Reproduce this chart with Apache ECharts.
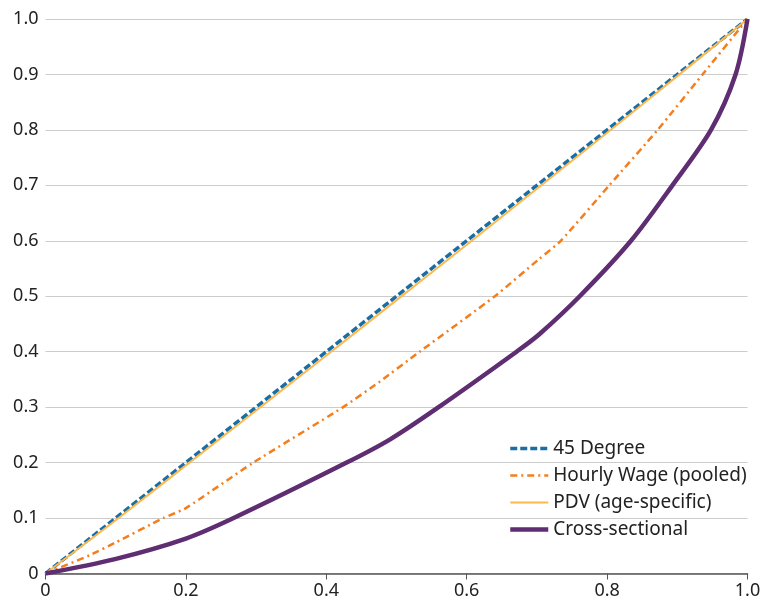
<!DOCTYPE html>
<html>
<head>
<meta charset="utf-8">
<script src="https://cdn.jsdelivr.net/npm/echarts@6/dist/echarts.min.js"></script>
<style>
  html, body { margin: 0; padding: 0; background: #fff; }
  #main { width: 764px; height: 605px; }
</style>
</head>
<body>
<div id="main"></div>
<script>
// cumulative share of population (x) vs cumulative share of earnings (y)
var seriesNames = ['45 Degree', 'Hourly Wage (pooled)', 'PDV (age-specific)', 'Cross-sectional'];

var degX = [0, 1];
var degY = [0, 1];

var wageX = [0, 0.063, 0.1, 0.168, 0.2, 0.296, 0.424, 0.476, 0.533, 0.64, 0.703, 0.734, 0.803, 0.872, 0.936, 1];
var wageY = [0, 0.033, 0.056, 0.1, 0.118, 0.2, 0.3, 0.346, 0.4, 0.5, 0.567, 0.6, 0.7, 0.8, 0.9, 1];

var pdvX = [0, 0.1, 0.2, 0.3, 0.4, 0.5, 0.6, 0.7, 0.8, 0.9, 1];
var pdvY = [0, 0.096, 0.195, 0.294, 0.393, 0.493, 0.593, 0.694, 0.795, 0.897, 1];

var crossX = [0, 0.099, 0.2, 0.268, 0.429, 0.491, 0.56, 0.671, 0.703, 0.761, 0.834, 0.893, 0.948, 0.983, 1];
var crossY = [0, 0.026, 0.063, 0.1, 0.2, 0.242, 0.3, 0.4, 0.431, 0.5, 0.6, 0.7, 0.8, 0.9, 1];

function pairs(xs, ys) {
    return xs.map(function (x, i) { return [x, ys[i]]; });
}

var font = 'Noto Sans';
var tickFmt = function (v) { return v === 0 ? '0' : v.toFixed(1); };

var option = {
    animation: false,
    grid: {
        left: 45.5,
        right: 16.5,
        top: 19,
        bottom: 31.5
    },
    legend: {
        orient: 'vertical',
        left: 503,
        top: 434,
        itemWidth: 38,
        itemHeight: 17,
        itemGap: 8,
        itemStyle: { opacity: 0 },
        lineStyle: { width: 'inherit' },
        textStyle: { fontFamily: font, fontSize: 19, color: '#222' },
        data: seriesNames
    },
    xAxis: {
        type: 'value',
        min: 0,
        max: 1,
        interval: 0.2,
        axisLine: { show: true, lineStyle: { color: '#555', width: 1.5 } },
        axisTick: { show: true, length: 6, inside: false, lineStyle: { color: '#555' } },
        axisLabel: { fontFamily: font, fontSize: 18, color: '#222', margin: 8, formatter: tickFmt },
        splitLine: { show: false }
    },
    yAxis: {
        type: 'value',
        min: 0,
        max: 1,
        interval: 0.1,
        axisLine: { show: false },
        axisTick: { show: false },
        axisLabel: { fontFamily: font, fontSize: 18, color: '#222', margin: 7, formatter: tickFmt },
        splitLine: { show: true, lineStyle: { color: '#cccccc', width: 1.2 } }
    },
    series: [
        {
            name: seriesNames[0],
            type: 'line',
            symbol: 'none',
            data: pairs(degX, degY),
            lineStyle: { color: '#1a6ea6', width: 3.5, type: [7, 3] },
            itemStyle: { color: '#1a6ea6' }
        },
        {
            name: seriesNames[1],
            type: 'line',
            symbol: 'none',
            smooth: 0.2,
            data: pairs(wageX, wageY),
            lineStyle: { color: '#f57e1c', width: 2.5, type: [7, 4, 2, 4] },
            itemStyle: { color: '#f57e1c' }
        },
        {
            name: seriesNames[2],
            type: 'line',
            symbol: 'none',
            smooth: 0.2,
            data: pairs(pdvX, pdvY),
            lineStyle: { color: '#fdb84e', width: 2 },
            itemStyle: { color: '#fdb84e' }
        },
        {
            name: seriesNames[3],
            type: 'line',
            symbol: 'none',
            smooth: 0.3,
            data: pairs(crossX, crossY),
            lineStyle: { color: '#5e2d72', width: 4.5 },
            itemStyle: { color: '#5e2d72' }
        }
    ]
};

var chart = echarts.init(document.getElementById('main'));
chart.setOption(option);
</script>
</body>
</html>
